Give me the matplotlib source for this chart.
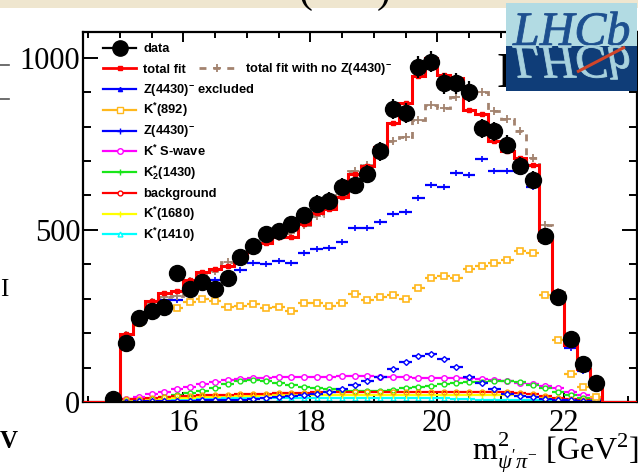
import numpy as np
import matplotlib
matplotlib.use('Agg')
import matplotlib.pyplot as plt
from matplotlib.patches import Rectangle, PathPatch
from matplotlib.textpath import TextPath
from matplotlib.font_manager import FontProperties
from matplotlib.transforms import Affine2D

plt.rcParams['mathtext.fontset'] = 'custom'
plt.rcParams['mathtext.rm'] = 'Liberation Sans:bold'
plt.rcParams['mathtext.bf'] = 'Liberation Sans:bold'
plt.rcParams['mathtext.sf'] = 'Liberation Sans:bold'
plt.rcParams['mathtext.it'] = 'Liberation Serif:italic'
plt.rcParams['mathtext.tt'] = 'Liberation Serif'
plt.rcParams['mathtext.default'] = 'rm'

# ---------------- data ----------------
data_x = [14.9, 15.1, 15.3, 15.5, 15.7, 15.9, 16.1, 16.3, 16.5, 16.7, 16.9, 17.1, 17.3,
          17.5, 17.7, 17.9, 18.1, 18.3, 18.5, 18.7, 18.9, 19.1, 19.3, 19.5, 19.7, 19.9,
          20.1, 20.3, 20.5, 20.7, 20.9, 21.1, 21.3, 21.5, 21.7, 21.9, 22.1, 22.3, 22.5]
data_y = [10, 170, 243, 265, 275, 374, 328, 348, 328, 361, 420, 452, 488,
          497, 517, 542, 576, 585, 626, 630, 663, 728, 851, 839, 973, 989,
          926, 926, 902, 795, 786, 747, 686, 645, 483, 305, 183, 110, 56]

fit_x = data_x[1:]
bin_half = 0.1

total_fit = [198, 250, 292, 318, 323, 354, 378, 386, 396, 423, 452, 462, 478, 480, 518,
             548, 562, 595, 663, 686, 740, 810, 870, 946, 999, 951, 941, 847, 837, 757,
             728, 708, 690, 470, 300, 166, 95, 50]
fit_no_z = [195, 248, 290, 306, 308, 352, 372, 380, 408, 430, 462, 466, 478, 491, 515,
            540, 570, 600, 672, 690, 720, 757, 771, 820, 863, 854, 885, 897, 900, 845,
            822, 786, 708, 514, 320, 175, 100, 52]
z_excluded = [185, 240, 275, 297, 297, 325, 340, 355, 362, 384, 403, 401, 410, 403, 432,
              445, 447, 464, 505, 505, 524, 547, 553, 592, 631, 626, 664, 660, 705, 670,
              672, 669, 626, 470, 290, 157, 90, 45]
kst892 = [185, 230, 255, 265, 272, 290, 300, 292, 277, 279, 284, 274, 277, 265, 287,
          287, 279, 287, 313, 297, 304, 310, 300, 330, 360, 365, 360, 385, 395, 405,
          412, 440, 432, 310, 180, 81, 43, 15]
z4430 = [1, 2, 3, 3, 4, 4, 5, 5, 6, 7, 9, 12, 14, 17, 20, 24, 30, 38, 48, 60, 74, 95,
         115, 134, 140, 125, 103, 74, 54, 37, 24, 17, 14, 10, 7, 6, 4, 2]
swave = [8, 15, 22, 30, 37, 44, 52, 58, 63, 67, 69, 71, 72, 73, 74, 74, 74, 75, 75, 75,
         74, 73, 72, 71, 71, 71, 70, 69, 67, 64, 61, 56, 51, 46, 40, 30, 20, 10]
k2_1430 = [3, 6, 10, 15, 20, 26, 33, 40, 52, 62, 64, 62, 56, 50, 44, 40, 37, 35, 33, 32,
           33, 35, 40, 43, 47, 51, 54, 57, 59, 62, 62, 59, 49, 42, 30, 20, 12, 5]
background = [8, 10, 12, 14, 16, 17, 19, 20, 21, 22, 23, 24, 25, 26, 27, 28, 28, 29, 29,
              30, 30, 30, 30, 30, 30, 30, 30, 30, 30, 30, 28, 25, 22, 17, 12, 8, 5, 2]
kst1680 = [3, 5, 7, 9, 11, 12, 14, 15, 16, 17, 18, 19, 19, 20, 20, 20, 20, 20, 20, 20,
           20, 20, 20, 20, 20, 20, 20, 20, 20, 20, 19, 17, 15, 12, 9, 6, 3, 1]
kst1410 = [1, 2, 4, 5, 7, 8, 9, 10, 11, 12, 12, 13, 13, 13, 13, 13, 13, 13, 13, 13,
           13, 13, 13, 12, 12, 11, 10, 9, 7, 6, 6, 6, 7, 7, 6, 4, 2, 1]

x_ticks = [16, 18, 20, 22]
y_ticks = [0, 500, 1000]

# ---------------- figure ----------------
W, H = 638, 472
fig = plt.figure(figsize=(W / 100, H / 100), dpi=100)
fig.patch.set_facecolor('white')

def fx(px):
    return px / W

def fy(py):
    return 1 - py / H

# slide background remnants
fig.patches.append(Rectangle((0, fy(8)), 1, 8 / H, transform=fig.transFigure,
                             facecolor='#efe6cf', edgecolor='none', zorder=0))
fig.text(fx(298), fy(2), '(', fontsize=30, family='Liberation Serif', va='baseline', ha='left')
fig.text(fx(377), fy(2), ')', fontsize=30, family='Liberation Serif', va='baseline', ha='left')
for yy in (65, 99):
    fig.lines.append(plt.Line2D([0, fx(9)], [fy(yy), fy(yy)], transform=fig.transFigure,
                                color='#555555', lw=1.2))
fig.text(fx(0), fy(296), 'I', fontsize=18, family='Liberation Serif', va='baseline', ha='left')
fig.text(fx(0), fy(448), 'V', fontsize=18, family='Liberation Serif', va='baseline',
         ha='left', weight='bold')

ax = fig.add_axes([fx(83), fy(402), (637 - 83) / W, (402 - 32) / H])
ax.set_xlim(14.42, 23.145)
ax.set_ylim(0, 1075)

edges = [c - bin_half for c in fit_x] + [fit_x[-1] + bin_half]
xl = ax.get_xlim()

# small components
comp_style = [
    (swave, '#ff00ff', dict(marker='o', ms=4, mfc='white')),
    (k2_1430, '#19e619', dict(marker='o', ms=3.5, mfc='white')),
    (kst1410, '#00ffff', dict(marker='^', ms=3.5, mfc='white')),
    (kst1680, '#ffff00', dict(marker='+', ms=4)),
    (background, '#ff0000', dict(marker='o', ms=3.5, mfc='none', mec='#ffa000')),
    (z4430, '#0000ff', dict(marker='D', ms=3, mfc='white')),
]
for vals, col, st in comp_style:
    ax.errorbar(fit_x, vals, xerr=bin_half, fmt='none', ecolor=col, elinewidth=1.6,
                capsize=0, zorder=2)
    ax.plot(fit_x, vals, ls='none', color=col, mew=1.0, zorder=2.1, **st)

ax.errorbar(fit_x, kst892, xerr=bin_half, fmt='none', ecolor='#ffb81c', elinewidth=1.6,
            capsize=0, zorder=3)
ax.plot(fit_x, kst892, ls='none', marker='s', ms=4.5, mfc='white', mec='#ffb81c',
        mew=1.2, zorder=3.1)
ax.errorbar(fit_x, z_excluded, xerr=bin_half, fmt='none', ecolor='#0000ff',
            elinewidth=1.6, capsize=0, zorder=3)
ax.plot(fit_x, z_excluded, ls='none', marker='+', ms=5, color='#0000ff', mew=1.2,
        zorder=3.1)

# total fit without Z
brown = '#a3836f'
ax.stairs(fit_no_z, edges, baseline=0, color=brown, lw=2, ls=(0, (2.5, 2.5)), zorder=4)
ax.plot(fit_x, fit_no_z, ls='none', marker='+', ms=6, mew=1.3, color=brown, zorder=4.1)

# total fit
ax.stairs(total_fit, edges, baseline=0, color='#ff0000', lw=2.2, zorder=5)
ax.hlines([0, 0], [xl[0], edges[-1]], [edges[0], xl[1]], color='#ff0000', lw=2.2,
          zorder=5)
ax.plot(fit_x, total_fit, ls='none', marker='s', ms=3.2, color='#ff0000', zorder=5.1)

# data
ax.errorbar(data_x, data_y, yerr=np.sqrt(data_y), fmt='o', color='black', ms=11.5,
            elinewidth=1.6, capsize=0, zorder=6)

# axes styling
for s in ax.spines.values():
    s.set_linewidth(1.6)
ax.set_xticks(x_ticks)
ax.set_xticks(np.arange(14.5, 23.1, 0.5), minor=True)
ax.set_yticks(y_ticks)
ax.set_yticks(np.arange(0, 1075, 100), minor=True)
ax.set_xticklabels([str(v) for v in x_ticks])
ax.set_yticklabels([str(v) for v in y_ticks])
ax.tick_params(which='both', direction='in', top=True, right=True, width=1.4)
ax.tick_params(axis='y', which='major', length=11, pad=2)
ax.tick_params(axis='y', which='minor', length=6)
ax.tick_params(axis='x', which='major', length=7.5, pad=5)
ax.tick_params(axis='x', which='minor', length=4)
for lab in ax.get_xticklabels() + ax.get_yticklabels():
    lab.set_fontfamily('Liberation Serif')
    lab.set_fontsize(22)

# x label
fig.text(fx(472), fy(461),
         r"$\mathtt{m}^{\mathtt{2}}_{\mathit{\psi}\mathtt{'}\mathit{\pi}^{\mathtt{-}}}$ [GeV$^{\mathtt{2}}$]",
         fontsize=23, family='Liberation Serif', ha='left', va='baseline')

# hidden plot label behind logo
fig.text(fx(497), fy(88), 'LHCb', fontsize=36, family='Liberation Serif', ha='left',
         va='baseline')

# ---------------- legend (manual, ROOT style) ----------------
def axx(px):
    return (px - 83) / (637 - 83)

def axy(py):
    return (402 - py) / (402 - 32)

leg_font = dict(fontsize=9.3, family='Liberation Sans', weight='bold')
entries = [
    ('data', dict(color='black', marker='o', ms=11, lw=1.6)),
    ('total fit', dict(color='#ff0000', marker='s', ms=3, lw=2)),
    (r'Z(4430)$^{-}$ excluded', dict(color='#0000ff', marker='^', ms=3, lw=1.6)),
    (r'K$^{*}$(892)', dict(color='#ffb81c', marker='s', ms=4, mfc='white', lw=1.6)),
    (r'Z(4430)$^{-}$', dict(color='#0000ff', marker='+', ms=4, lw=1.6)),
    (r'K$^{*}$ S-wave', dict(color='#ff00ff', marker='o', ms=4, mfc='white', lw=1.6)),
    (r'K$^{*}_{2}$(1430)', dict(color='#19e619', marker='+', ms=4, lw=1.6)),
    ('background', dict(color='#ff0000', marker='o', ms=3.5, mfc='white', lw=1.6)),
    (r'K$^{*}$(1680)', dict(color='#ffff00', marker='+', ms=4, lw=1.6)),
    (r'K$^{*}$(1410)', dict(color='#00ffff', marker='^', ms=3.5, mfc='white', lw=1.6)),
]
row0, pitch = 47.5, 20.75
for i, (lab, st) in enumerate(entries):
    yc = row0 + i * pitch
    ax.plot([axx(103), axx(136)], [axy(yc)] * 2, transform=ax.transAxes, clip_on=False,
            zorder=7, ls='-', color=st['color'], lw=st['lw'])
    mst = {k: v for k, v in st.items() if k != 'lw'}
    ax.plot([axx(119.5)], [axy(yc)], transform=ax.transAxes, clip_on=False, zorder=7.1,
            ls='none', **mst)
    ax.text(axx(143), axy(yc + 4.6), lab, transform=ax.transAxes, ha='left',
            va='baseline', zorder=7, **leg_font)
yc = row0 + pitch
ax.plot([axx(199), axx(235)], [axy(yc)] * 2, transform=ax.transAxes, clip_on=False,
        color=brown, lw=2, ls=(0, (2.5, 2.5)), zorder=7)
ax.plot([axx(217)], [axy(yc)], transform=ax.transAxes, clip_on=False, ls='none',
        marker='+', ms=6, mew=1.3, color=brown, zorder=7)
ax.text(axx(245), axy(yc + 4.6), r'total fit with no Z(4430)$^{-}$', transform=ax.transAxes,
        ha='left', va='baseline', zorder=7, **leg_font)

# ---------------- LHCb logo ----------------
lx0, ly_top, lw_, lh_ = 506, 3, 131, 88
lax = fig.add_axes([fx(lx0), fy(ly_top + lh_), lw_ / W, lh_ / H], zorder=10)
lax.set_xlim(0, lw_)
lax.set_ylim(0, lh_)
lax.axis('off')
split = (ly_top + lh_) - 46
lax.add_patch(Rectangle((0, split), lw_, lh_ - split, facecolor='#b2dbe3', edgecolor='none'))
lax.add_patch(Rectangle((0, 0), lw_, split, facecolor='#0f3d78', edgecolor='none'))
fp = FontProperties(family='Liberation Serif', style='italic')
tp = TextPath((0, 0), 'LHCb', size=48, prop=fp)
base = (ly_top + lh_) - 45
lax.add_patch(PathPatch(Affine2D().translate(7, base).transform_path(tp),
                        facecolor='#1d4f8f', edgecolor='#1d4f8f', lw=0.6))
lax.add_patch(PathPatch(Affine2D().scale(1, -1).translate(7, base - 1).transform_path(tp),
                        facecolor='#a8d2de', edgecolor='#a8d2de', lw=0.6))
lax.plot([71, 119], [19, 44], color='#d0452a', lw=2.2, solid_capstyle='butt')

fig.savefig('out.png', dpi=100)
